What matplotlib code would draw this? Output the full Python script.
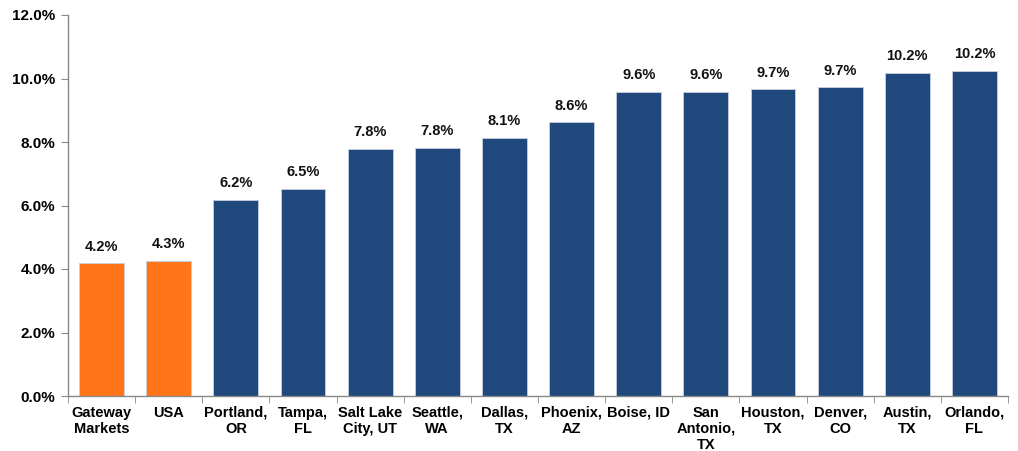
import matplotlib.pyplot as plt
import numpy as np

categories = ["Gateway\nMarkets", "USA", "Portland,\nOR", "Tampa,\nFL", "Salt Lake\nCity, UT",
              "Seattle,\nWA", "Dallas,\nTX", "Phoenix,\nAZ", "Boise, ID", "San\nAntonio,\nTX",
              "Houston,\nTX", "Denver,\nCO", "Austin,\nTX", "Orlando,\nFL"]
values = [4.18, 4.25, 6.17, 6.52, 7.78, 7.82, 8.12, 8.62, 9.58, 9.58, 9.66, 9.72, 10.17, 10.24]
value_labels = ["4.2%", "4.3%", "6.2%", "6.5%", "7.8%", "7.8%", "8.1%", "8.6%",
                "9.6%", "9.6%", "9.7%", "9.7%", "10.2%", "10.2%"]
highlight = [True, True] + [False] * 12

plt.rcParams['font.family'] = ['Liberation Sans', 'DejaVu Sans']

fig = plt.figure(figsize=(10.18, 4.51), dpi=100, facecolor='w')
ax = fig.add_axes([68 / 1018, 55 / 451, 940 / 1018, 381 / 451])

x = np.arange(len(categories))
colors = ['#FF7518' if h else '#1F497D' for h in highlight]
bars = ax.bar(x, values, width=0.67, color=colors, edgecolor='#C8D0DC', linewidth=0.6)

for xi, v, lab in zip(x, values, value_labels):
    ax.annotate(lab, (xi, v), xytext=(0, 7), textcoords='offset points',
                ha='center', va='bottom', fontsize=10.5, fontweight='bold', color='#111111')

ax.set_xlim(-0.5, len(categories) - 0.5)
ax.set_ylim(0, 12)
ax.set_yticks(np.arange(0, 12.1, 2))
ax.set_yticklabels(["%.1f%%" % t for t in np.arange(0, 12.1, 2)])

ax.set_xticks(x)
ax.set_xticklabels(categories, fontsize=10.5, fontweight='bold', linespacing=1.2)
ax.set_xticks(np.arange(-0.5, len(categories), 1), minor=True)
ax.tick_params(axis='x', which='major', length=0, pad=7)
ax.tick_params(axis='x', which='minor', length=5, color='#888888', direction='out')
ax.tick_params(axis='y', length=5, color='#888888', labelsize=11, pad=4)
for lab in ax.get_yticklabels():
    lab.set_fontweight('bold')

for s in ['top', 'right']:
    ax.spines[s].set_visible(False)
for s in ['left', 'bottom']:
    ax.spines[s].set_color('#888888')
    ax.spines[s].set_linewidth(1.0)

fig.savefig("out.png", dpi=100)
